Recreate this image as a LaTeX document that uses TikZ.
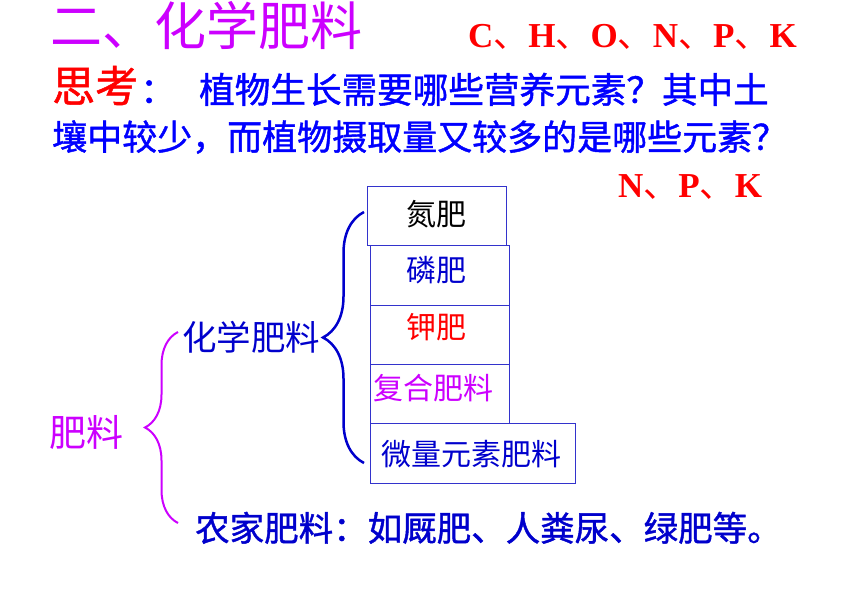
\documentclass[tikz,border=0pt]{standalone}
\usepackage{fontspec}
\usepackage{tikz}
\setmainfont{Noto Sans CJK SC}
\newfontfamily\hei[FakeBold=1.2]{Noto Sans CJK SC}
\newfontfamily\tnr{Liberation Serif}
\definecolor{mm}{RGB}{204,0,255}
\definecolor{rr}{RGB}{255,0,0}
\definecolor{qq}{RGB}{0,0,255}
\definecolor{dd}{RGB}{0,0,204}
\definecolor{bb}{RGB}{51,51,204}
\usetikzlibrary{decorations.pathreplacing}
\def\fs{30}
\newcommand{\el}[1]{{\tnr\bfseries #1}}
\newcommand{\zi}[6]{\node[anchor=base west,inner sep=0pt,text=#4,font=\fontsize{#5}{#5}\selectfont] (#3) at (#1,#2) {#6};}
\newcommand{\feibox}[9]{\node[draw=bb,line width=0.8pt,minimum width=#4pt,minimum height=#5pt,inner sep=0pt] (#3) at (#1,#2) {};
	\node[anchor=base,inner sep=0pt,text=#6,font=\fontsize{\fs}{\fs}\selectfont] (#3t) at (#7,#8) {#9}; }

\begin{document}
\begin{tikzpicture}[x=1pt,y=-1pt]
\useasboundingbox (0,0) rectangle (860,595);

\zi{50}{45}{title}{mm}{52}{二、化学肥料}
\zi{468}{47}{elem}{rr}{35}{\el{C}、\el{H}、\el{O}、\el{N}、\el{P}、\el{K}}
\zi{52}{102}{think}{rr}{43}{\hei 思考}
\zi{140}{103}{colon}{qq}{35.6}{\hei ：}
\zi{199}{103}{qa}{qq}{35.6}{\hei 植物生长需要哪些营养元素？其中土}
\zi{52}{150}{qb}{qq}{35}{\hei 壤中较少，而植物摄取量又较多的是哪些元素？}
\zi{618}{197}{npk}{rr}{35}{\el{N}、\el{P}、\el{K}}

\feibox{437}{216}{dan}{139}{59}{black}{436}{225.4}{氮肥}
\feibox{439.5}{275.25}{lin}{139}{59.5}{dd}{436}{281.4}{磷肥}
\feibox{439.5}{334.5}{jia}{139}{59}{rr}{436}{338.4}{钾肥}
\feibox{439.5}{393.75}{fuhe}{139}{59.5}{mm}{433}{399.4}{复合肥料}
\feibox{472.5}{453.25}{weiliang}{205}{59.5}{dd}{471.5}{465.4}{微量元素肥料}

\zi{182}{350}{chem}{dd}{34.5}{化学肥料}
\zi{49}{446}{fl}{mm}{37}{肥料}
\zi{195}{541}{farm}{dd}{34.5}{\hei 农家肥料：如厩肥、人粪尿、绿肥等。}

\coordinate (cbb) at (364,463);
\coordinate (cbt) at (364,212);
\coordinate (mbb) at (178,523);
\coordinate (mbt) at (178,332);
\draw[dd,line width=2.5pt,decorate,decoration={brace,amplitude=41pt}] (cbb) -- (cbt);
\draw[mm,line width=2pt,decorate,decoration={brace,amplitude=33pt}] (mbb) -- (mbt);
\end{tikzpicture}
\end{document}
